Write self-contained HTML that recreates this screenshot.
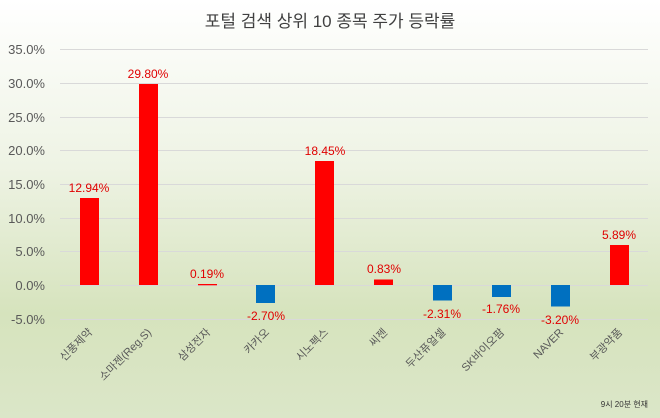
<!DOCTYPE html><html style="background:#dbe6c8"><head><meta charset="utf-8"><style>
html,body{margin:0;width:660px;height:418px;overflow:hidden}
body{background:linear-gradient(#ffffff 0%,#eef3e4 40%,#d6e3bd 75%,#dbe6c8 100%);font-family:"Liberation Sans","Noto Sans CJK KR",sans-serif}
svg{display:block}
</style></head><body>
<svg width="660" height="418" xmlns="http://www.w3.org/2000/svg" font-family="Liberation Sans, Noto Sans CJK KR, sans-serif">
<text x="330" y="27" text-anchor="middle" font-size="17" fill="#404040">포털 검색 상위 10 종목 주가 등락률</text>
<g stroke="#d9d9d9" stroke-width="1">
<line x1="60" x2="648" y1="49.5" y2="49.5"/><line x1="60" x2="648" y1="83.5" y2="83.5"/><line x1="60" x2="648" y1="117.5" y2="117.5"/><line x1="60" x2="648" y1="150.5" y2="150.5"/><line x1="60" x2="648" y1="184.5" y2="184.5"/><line x1="60" x2="648" y1="218.5" y2="218.5"/><line x1="60" x2="648" y1="251.5" y2="251.5"/><line x1="60" x2="648" y1="285.5" y2="285.5"/><line x1="60" x2="648" y1="319.5" y2="319.5"/>
</g>
<g font-size="13" fill="#595959" text-anchor="end">
<text x="45" y="54">35.0%</text><text x="45" y="88">30.0%</text><text x="45" y="122">25.0%</text><text x="45" y="155">20.0%</text><text x="45" y="189">15.0%</text><text x="45" y="223">10.0%</text><text x="45" y="256">5.0%</text><text x="45" y="290">0.0%</text><text x="45" y="324">-5.0%</text>
</g>
<g>
<rect x="80" y="198" width="19" height="87" fill="#ff0000"/>
<rect x="139" y="84" width="19" height="201" fill="#ff0000"/>
<rect x="198" y="284" width="19" height="1.3" fill="#ff0000"/>
<rect x="256" y="285" width="19" height="18" fill="#0070c0"/>
<rect x="315" y="161" width="19" height="124" fill="#ff0000"/>
<rect x="374" y="279.5" width="19" height="5.5" fill="#ff0000"/>
<rect x="433" y="285" width="19" height="15.5" fill="#0070c0"/>
<rect x="492" y="285" width="19" height="12" fill="#0070c0"/>
<rect x="551" y="285" width="19" height="21.5" fill="#0070c0"/>
<rect x="610" y="245" width="19" height="40" fill="#ff0000"/>
</g>
<g font-size="12" fill="#e00000" text-anchor="middle">
<text x="89" y="192">12.94%</text><text x="148" y="78">29.80%</text><text x="207" y="278">0.19%</text><text x="266" y="320">-2.70%</text><text x="325" y="155">18.45%</text><text x="384" y="273">0.83%</text><text x="442" y="318">-2.31%</text><text x="501" y="313">-1.76%</text><text x="560" y="324">-3.20%</text><text x="619" y="239">5.89%</text>
</g>
<g font-size="11" fill="#595959" text-anchor="end">
<text transform="translate(93,333) rotate(-45)">신풍제약</text>
<text transform="translate(152,333) rotate(-45)">소마젠(Reg.S)</text>
<text transform="translate(211,333) rotate(-45)">삼성전자</text>
<text transform="translate(270,333) rotate(-45)">카카오</text>
<text transform="translate(329,333) rotate(-45)">시노펙스</text>
<text transform="translate(388,333) rotate(-45)">씨젠</text>
<text transform="translate(446,333) rotate(-45)">두산퓨얼셀</text>
<text transform="translate(505,333) rotate(-45)">SK바이오팜</text>
<text transform="translate(564,333) rotate(-45)">NAVER</text>
<text transform="translate(623,333) rotate(-45)">부광약품</text>
</g>
<text x="648" y="407" text-anchor="end" font-size="8" fill="#333">9시 20분 현재</text>
</svg>
</body></html>
